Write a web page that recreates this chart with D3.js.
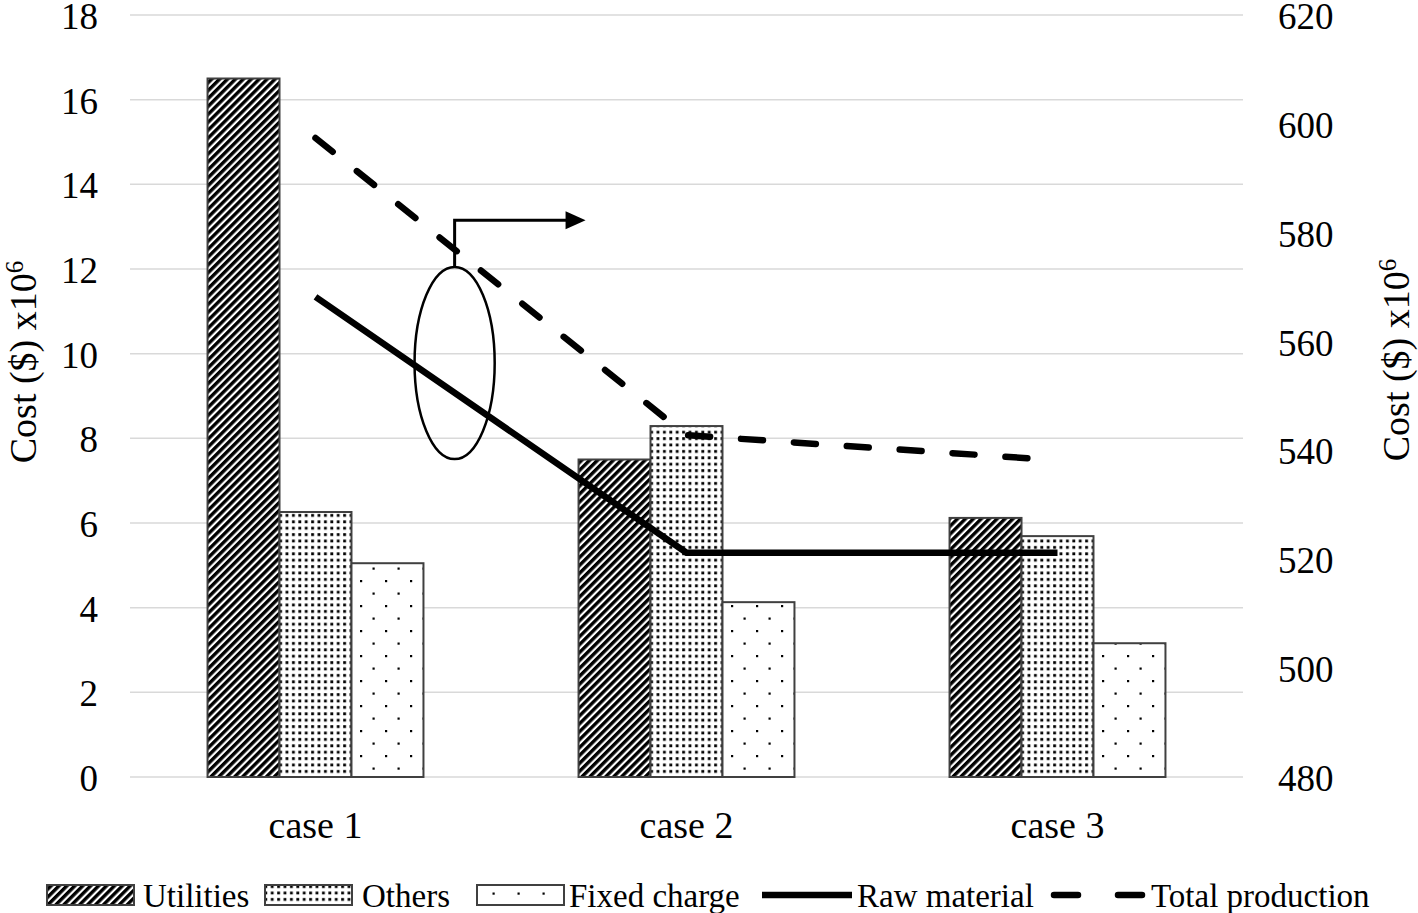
<!DOCTYPE html>
<html><head><meta charset="utf-8">
<script src="https://cdn.jsdelivr.net/npm/d3@7"></script>
<style>body{margin:0;background:#fff} text{font-family:"Liberation Serif","Times New Roman",serif;fill:#000}</style>
</head><body><svg id="c" width="1418" height="913"></svg>
<script>
const categories = ["case 1", "case 2", "case 3"];
const seriesNames = ["Utilities", "Others", "Fixed charge"];
const utilities = [16.5, 7.5, 6.12];
const others = [6.26, 8.29, 5.69];
const fixedCharge = [5.05, 4.13, 3.16];
const rawMaterial = [568.2, 521.2, 521.2];
const totalProduction = [597.4, 542.8, 538.2];
const leftTicks = [0, 2, 4, 6, 8, 10, 12, 14, 16, 18];
const rightTicks = [480, 500, 520, 540, 560, 580, 600, 620];
const axisTitle = "Cost ($) x10";
const axisTitleSup = "6";
// annotation (category-index units on x, left-axis units on y)
const annEllipse = {cx: 0.375, cy: 9.78, rx: 0.108, ry: 2.27};
const annArrow = {x: 0.375, y0: 12.05, y1: 13.15, xEnd: 0.728};

const svg = d3.select("#c");
const defs = svg.append("defs");

// patterns
const ph = defs.append("pattern").attr("id", "hatch").attr("patternUnits", "userSpaceOnUse")
  .attr("width", 5.6).attr("height", 5.6).attr("patternTransform", "rotate(45)");
ph.append("rect").attr("width", 5.6).attr("height", 5.6).attr("fill", "#fff");
ph.append("rect").attr("width", 3.4).attr("height", 5.6).attr("fill", "#000");

const pd = defs.append("pattern").attr("id", "dense").attr("patternUnits", "userSpaceOnUse")
  .attr("width", 6.4).attr("height", 6.4);
pd.append("rect").attr("width", 6.4).attr("height", 6.4).attr("fill", "#fff");
pd.append("rect").attr("x", 2).attr("y", 2).attr("width", 2.8).attr("height", 2.8).attr("fill", "#000");

const ps = defs.append("pattern").attr("id", "sparse").attr("patternUnits", "userSpaceOnUse")
  .attr("width", 25).attr("height", 25);
ps.append("rect").attr("width", 25).attr("height", 25).attr("fill", "#fff");
ps.append("rect").attr("x", 5).attr("y", 5).attr("width", 2.2).attr("height", 2.2).attr("fill", "#000");
ps.append("rect").attr("x", 17.5).attr("y", 17.5).attr("width", 2.2).attr("height", 2.2).attr("fill", "#000");

const fills = {"Utilities": "url(#hatch)", "Others": "url(#dense)", "Fixed charge": "url(#sparse)"};
const seriesData = {"Utilities": utilities, "Others": others, "Fixed charge": fixedCharge};

const pLeft = 130, pRight = 1243, pTop = 15, pBottom = 777;
const x0 = d3.scaleBand().domain(categories).range([pLeft, pRight]).padding(0);
const bw = x0.bandwidth();
const x1 = d3.scaleBand().domain(seriesNames).range([bw * 0.209, bw * 0.791]).padding(0);
const yL = d3.scaleLinear().domain([0, 18]).range([pBottom, pTop]);
const yR = d3.scaleLinear().domain([480, 620]).range([pBottom, pTop]);
const xi = d3.scaleLinear().domain([0, 2]).range([x0(categories[0]) + bw / 2, x0(categories[2]) + bw / 2]);

// gridlines
svg.append("g").selectAll("line").data(leftTicks).join("line")
  .attr("x1", pLeft).attr("x2", pRight)
  .attr("y1", d => yL(d)).attr("y2", d => yL(d))
  .attr("stroke", "#d9d9d9").attr("stroke-width", 1.5);

// left tick labels
svg.append("g").selectAll("text").data(leftTicks).join("text")
  .attr("x", 98).attr("y", d => yL(d) + 1).attr("dy", "0.35em")
  .attr("text-anchor", "end").attr("font-size", 37).text(d => d);
// right tick labels
svg.append("g").selectAll("text").data(rightTicks).join("text")
  .attr("x", 1278).attr("y", d => yR(d) + 1).attr("dy", "0.35em")
  .attr("text-anchor", "start").attr("font-size", 37).text(d => d);

// category labels
svg.append("g").selectAll("text").data(categories).join("text")
  .attr("x", d => x0(d) + bw / 2).attr("y", 838)
  .attr("text-anchor", "middle").attr("font-size", 38).text(d => d);

// axis titles
function title(x, y) {
  const t = svg.append("text").attr("transform", `translate(${x},${y}) rotate(-90)`)
    .attr("text-anchor", "middle").attr("dy", "0.35em").attr("font-size", 38);
  t.append("tspan").text(axisTitle);
  t.append("tspan").attr("baseline-shift", "super").attr("font-size", 25).text(axisTitleSup);
}
title(23, 362);
title(1396, 360);

// bars
const groups = svg.append("g").selectAll("g").data(categories).join("g")
  .attr("transform", d => `translate(${x0(d)},0)`);
groups.selectAll("rect").data((d, i) => seriesNames.map(s => ({s, v: seriesData[s][i]}))).join("rect")
  .attr("x", d => x1(d.s)).attr("width", x1.bandwidth())
  .attr("y", d => yL(d.v)).attr("height", d => yL(0) - yL(d.v))
  .attr("fill", d => fills[d.s]).attr("stroke", "#404040").attr("stroke-width", 2);

// lines
const line = d3.line().x((d, i) => x0(categories[i]) + bw / 2).y(d => yR(d));
svg.append("path").datum(rawMaterial).attr("d", line)
  .attr("fill", "none").attr("stroke", "#000").attr("stroke-width", 6.5);
svg.append("path").datum(totalProduction).attr("d", line)
  .attr("fill", "none").attr("stroke", "#000").attr("stroke-width", 6.5)
  .attr("stroke-dasharray", "22,31").attr("stroke-linecap", "round");

// annotation
svg.append("ellipse")
  .attr("cx", xi(annEllipse.cx)).attr("cy", yL(annEllipse.cy))
  .attr("rx", xi(annEllipse.rx) - xi(0)).attr("ry", yL(0) - yL(annEllipse.ry))
  .attr("fill", "none").attr("stroke", "#000").attr("stroke-width", 2.5);
const ax = xi(annArrow.x), ay0 = yL(annArrow.y0), ay1 = yL(annArrow.y1), axe = xi(annArrow.xEnd);
svg.append("path").attr("d", `M${ax},${ay0}V${ay1}H${axe - 18}`)
  .attr("fill", "none").attr("stroke", "#000").attr("stroke-width", 3);
svg.append("path").attr("d", `M${axe},${ay1}L${axe - 20},${ay1 - 9}L${axe - 20},${ay1 + 9}Z`).attr("fill", "#000");

// legend
const legendItems = [
  {name: "Utilities", type: "rect", fill: fills["Utilities"], x: 47, tx: 143},
  {name: "Others", type: "rect", fill: fills["Others"], x: 265, tx: 362},
  {name: "Fixed charge", type: "rect", fill: fills["Fixed charge"], x: 477, tx: 569},
  {name: "Raw material", type: "solid", x: 762, tx: 857},
  {name: "Total production", type: "dash", x: 1054, tx: 1151}
];
const ly = 895;
const lg = svg.append("g");
legendItems.forEach(it => {
  if (it.type === "rect") {
    lg.append("rect").attr("x", it.x).attr("y", ly - 10).attr("width", 87).attr("height", 20)
      .attr("fill", it.fill).attr("stroke", "#404040").attr("stroke-width", 2);
  } else if (it.type === "solid") {
    lg.append("line").attr("x1", it.x).attr("x2", it.x + 90).attr("y1", ly).attr("y2", ly)
      .attr("stroke", "#000").attr("stroke-width", 6.5);
  } else {
    lg.append("line").attr("x1", it.x).attr("x2", it.x + 88).attr("y1", ly).attr("y2", ly)
      .attr("stroke", "#000").attr("stroke-width", 6.5).attr("stroke-dasharray", "24,40").attr("stroke-linecap", "round");
  }
  lg.append("text").attr("x", it.tx).attr("y", ly).attr("dy", "0.35em").attr("font-size", 33).text(it.name);
});
</script></body></html>
